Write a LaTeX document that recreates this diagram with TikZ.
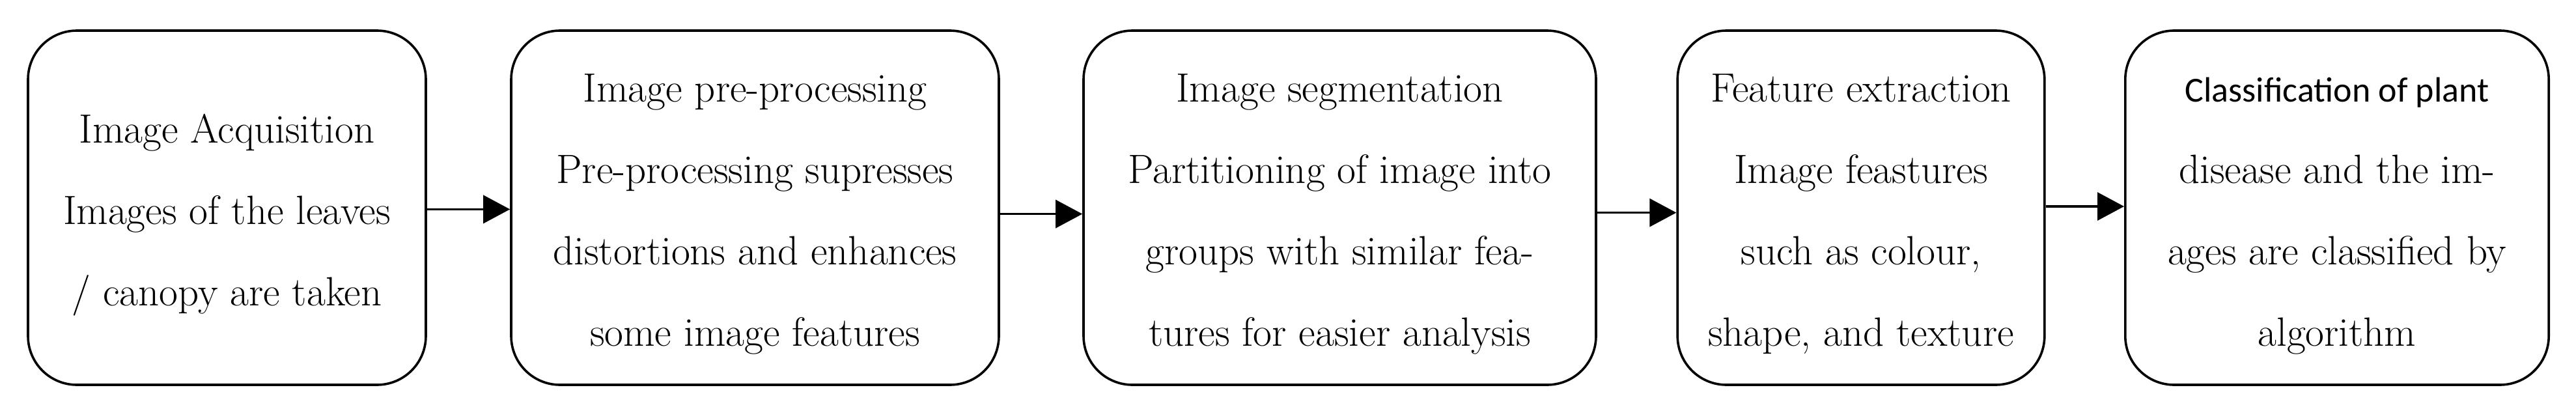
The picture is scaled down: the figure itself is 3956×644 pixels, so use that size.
\documentclass[tikz,border=0pt]{standalone}
\usepackage{fontspec}
\newfontfamily\calib{Carlito}
\usetikzlibrary{arrows.meta}
\begin{document}
\begin{tikzpicture}[x=0.25pt,y=-0.25pt,
  box/.style={draw=black, line width=0.9pt, rounded corners=18.75pt, minimum height=136pt,
    inner sep=0pt, align=center, font=\fontsize{15.7}{31.25}\selectfont, anchor=center},
  arr/.style={line width=0.85pt, -{Triangle[length=10.25pt,width=10.75pt]}}]
\useasboundingbox (0,0) rectangle (3956,644);
\node[box, minimum width=152.75pt] (b1) at (348.5,319)
  {\strut Image Acquisition\\\strut Images of the leaves\\\strut / canopy are taken};
\node[box, minimum width=187.25pt] (b2) at (1159.5,319)
  {\strut Image pre-processing\\\strut Pre-processing supresses\\\strut distortions and enhances\\\strut some image features};
\node[box, minimum width=196.75pt] (b3) at (2057.5,319)
  {\strut Image segmentation\\\strut Partitioning of image into\\\strut groups with similar fea-\\\strut tures for easier analysis};
\node[box, minimum width=140.9pt] (b4) at (2858,319)
  {\strut Feature extraction\\\strut Image feastures\\\strut such as colour,\\\strut shape, and texture};
\node[box, minimum width=162.6pt] (b5) at (3589,319)
  {\strut{\calib\fontsize{13.5}{31.25}\selectfont Classification of plant}\\\strut disease and the im-\\\strut ages are classified by\\\strut algorithm};
\draw[arr] ([yshift=-0.6pt]b1.east) -- ([yshift=-0.6pt]b2.west);
\draw[arr] ([yshift=-2.4pt]b2.east) -- ([yshift=-2.4pt]b3.west);
\draw[arr] ([yshift=-1.9pt]b3.east) -- ([yshift=-1.9pt]b4.west);
\draw[arr] ([yshift=0.5pt]b4.east) -- ([yshift=0.5pt]b5.west);
\end{tikzpicture}
\end{document}
